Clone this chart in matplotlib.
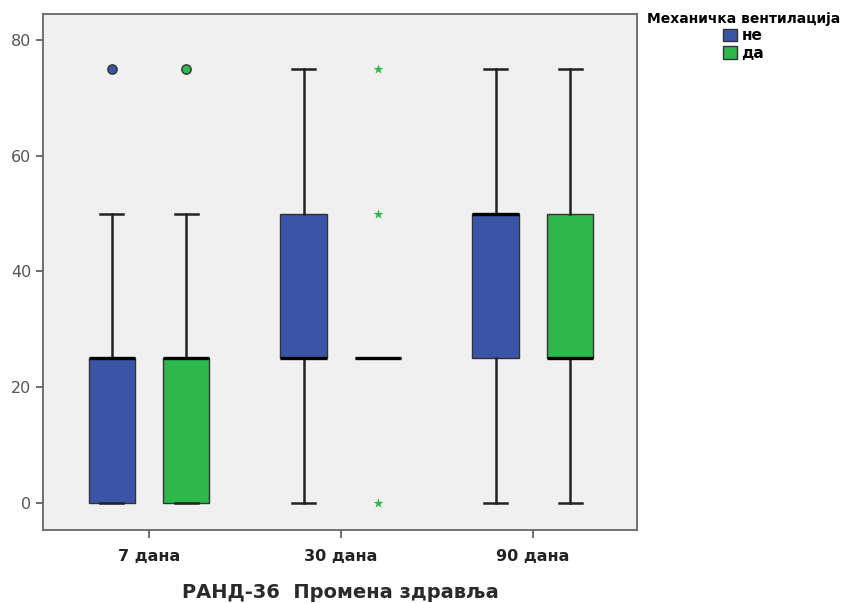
import matplotlib
matplotlib.use("Agg")
import matplotlib.pyplot as plt
from matplotlib.patches import Patch

# data (RAND-36 health change scores)
periods = ["7 дана", "30 дана", "90 дана"]
groups = ["не", "да"]
legend_title = "Механичка вентилација"
xlabel = "РАНД-36  Промена здравља"

# per group, per period: whisker low, Q1, median, Q3, whisker high
no_whislo = [0, 0, 0]
no_q1 = [0, 25, 25]
no_med = [25, 25, 50]
no_q3 = [25, 50, 50]
no_whishi = [50, 75, 75]
no_outliers = [[75], [], []]
no_extremes = [[], [], []]

yes_whislo = [0, 25, 0]
yes_q1 = [0, 25, 25]
yes_med = [25, 25, 25]
yes_q3 = [25, 25, 50]
yes_whishi = [50, 25, 75]
yes_outliers = [[75], [], []]
yes_extremes = [[], [0, 50, 75], []]

COLORS = {"не": "#3a55a6", "да": "#2eb84b"}
BG = "#f0f0f0"
OFFSET = 0.195
WIDTH = 0.24

plt.rcParams.update({"font.family": "DejaVu Sans"})

fig = plt.figure(figsize=(8.49, 6.03), dpi=100)
ax = fig.add_axes([43 / 849, 1 - 530 / 603, 594 / 849, 516 / 603])
ax.set_facecolor(BG)

series = [
    ("не", -OFFSET, no_whislo, no_q1, no_med, no_q3, no_whishi, no_outliers, no_extremes),
    ("да", OFFSET, yes_whislo, yes_q1, yes_med, yes_q3, yes_whishi, yes_outliers, yes_extremes),
]
for name, off, wlo, q1, med, q3, whi, outl, extr in series:
    stats = []
    for i in range(len(periods)):
        stats.append(dict(whislo=wlo[i], q1=q1[i], med=med[i], q3=q3[i],
                          whishi=whi[i], fliers=[]))
    pos = [i + off for i in range(len(periods))]
    ax.bxp(stats, positions=pos, widths=WIDTH, patch_artist=True,
           showfliers=False, manage_ticks=False,
           boxprops=dict(facecolor=COLORS[name], edgecolor="#333333", linewidth=1.0),
           medianprops=dict(color="black", linewidth=2.4),
           whiskerprops=dict(color="#222222", linewidth=1.8),
           capprops=dict(color="#222222", linewidth=1.8),
           capwidths=WIDTH / 2)
    for i, p in enumerate(pos):
        if outl[i]:
            ax.scatter([p] * len(outl[i]), outl[i], s=45, marker="o",
                       facecolor=COLORS[name], edgecolor="#333333",
                       linewidth=1.0, zorder=4)
        if extr[i]:
            ax.scatter([p] * len(extr[i]), extr[i], s=55, marker="*",
                       color=COLORS[name], linewidth=0, zorder=4)

ax.set_xlim(-0.552, 2.542)
ax.set_ylim(-4.7, 84.5)
ax.set_yticks([0, 20, 40, 60, 80])
ax.set_xticks(range(len(periods)))
ax.set_xticklabels(periods, fontsize=11.5, color="#222222", fontweight="bold")
ax.tick_params(axis="y", labelsize=11.5, labelcolor="#555555", length=5,
               width=1.2, color="#555555")
ax.tick_params(axis="x", length=6, width=1.2, color="#555555", pad=8)
for s in ax.spines.values():
    s.set_color("#666666")
    s.set_linewidth(1.3)
ax.set_xlabel(xlabel, fontsize=14, color="#2a2a2a", labelpad=13,
              fontweight="bold")

handles = [Patch(facecolor=COLORS[g], edgecolor="#333333", label=g) for g in groups]
leg = fig.legend(handles=handles, title=legend_title, loc="upper left",
                 bbox_to_anchor=(641 / 849, 1 - 6 / 603), frameon=False,
                 handlelength=0.9, handleheight=0.9, handletextpad=0.3,
                 labelspacing=0.15, borderaxespad=0, alignment="center",
                 prop=dict(size=11, weight="bold"),
                 title_fontproperties=dict(size=10, weight="bold"))

fig.savefig("out.png", dpi=100, facecolor="white")
